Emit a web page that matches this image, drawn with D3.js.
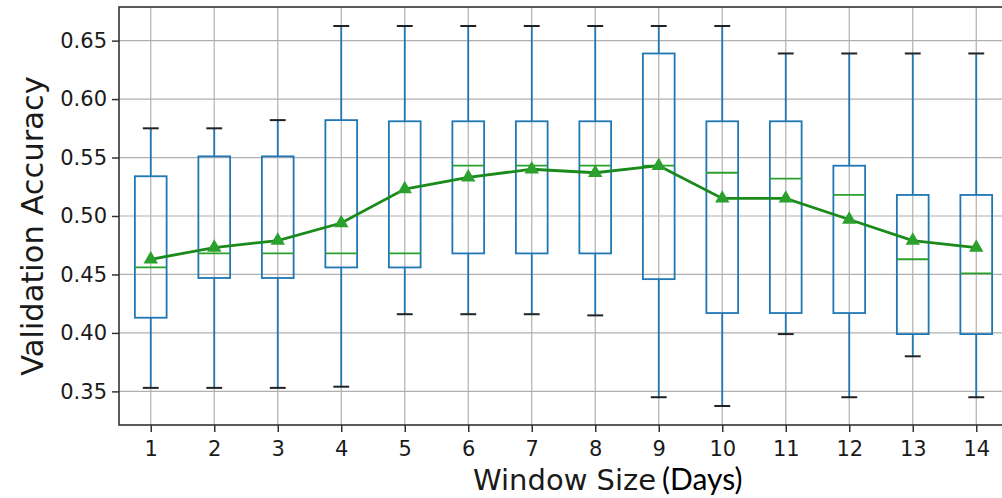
<!DOCTYPE html>
<html>
<head>
<meta charset="utf-8">
<script src="https://cdn.jsdelivr.net/npm/d3@7"></script>
<style>
  html, body { margin: 0; padding: 0; background: #fff; }
  svg { display: block; }
</style>
</head>
<body>
<div id="chart"></div>
<script>
// Validation accuracy distribution per window size (days)
const windowSizes = [1, 2, 3, 4, 5, 6, 7, 8, 9, 10, 11, 12, 13, 14];
const whiskerHigh = [0.575, 0.575, 0.582, 0.6625, 0.6625, 0.6625, 0.6625, 0.6625, 0.6625, 0.6625, 0.639, 0.639, 0.639, 0.639];
const upperQuartile = [0.534, 0.551, 0.551, 0.582, 0.581, 0.581, 0.581, 0.581, 0.639, 0.581, 0.581, 0.543, 0.518, 0.518];
const medians = [0.456, 0.468, 0.468, 0.468, 0.468, 0.543, 0.543, 0.543, 0.543, 0.537, 0.532, 0.518, 0.463, 0.451];
const lowerQuartile = [0.413, 0.447, 0.447, 0.456, 0.456, 0.468, 0.468, 0.468, 0.446, 0.417, 0.417, 0.417, 0.399, 0.399];
const whiskerLow = [0.353, 0.353, 0.353, 0.354, 0.416, 0.416, 0.416, 0.415, 0.345, 0.3375, 0.399, 0.345, 0.380, 0.345];
const means = [0.463, 0.473, 0.479, 0.494, 0.523, 0.533, 0.540, 0.537, 0.543, 0.515, 0.515, 0.497, 0.479, 0.473];
const yTicks = [0.35, 0.40, 0.45, 0.50, 0.55, 0.60, 0.65];

const W = 1002, H = 498;
const plot = { left: 119, right: 1008, top: 7, bottom: 425 };

const svg = d3.select("#chart").append("svg")
  .attr("width", W).attr("height", H)
  .style("font-family", "'DejaVu Sans', sans-serif");

const x = d3.scaleLinear()
  .domain([0.5, windowSizes.length + 0.5])
  .range([plot.left, plot.right]);

// y range padded by 5% around the whisker extent
const lo = d3.min(whiskerLow), hi = d3.max(whiskerHigh);
const pad = (hi - lo) * 0.05;
const y = d3.scaleLinear()
  .domain([lo - pad, hi + pad])
  .range([plot.bottom, plot.top]);

const boxHalf = (x(1.5) - x(1)) / 2;   // box width 0.5 units
const capHalf = boxHalf / 2;

// grid
const grid = svg.append("g").attr("stroke", "#b0b0b0").attr("stroke-width", 1.2);
grid.selectAll("line.gy").data(yTicks).join("line")
  .attr("x1", plot.left).attr("x2", plot.right)
  .attr("y1", d => y(d)).attr("y2", d => y(d));
grid.selectAll("line.gx").data(windowSizes).join("line")
  .attr("y1", plot.top).attr("y2", plot.bottom)
  .attr("x1", d => x(d)).attr("x2", d => x(d));

// boxes
const rows = windowSizes.map((w, i) => ({
  w, hiW: whiskerHigh[i], q3: upperQuartile[i], med: medians[i],
  q1: lowerQuartile[i], loW: whiskerLow[i], mean: means[i]
}));

const boxes = svg.append("g").selectAll("g").data(rows).join("g");
const blue = "#1f77b4";

boxes.append("line")
  .attr("x1", d => x(d.w)).attr("x2", d => x(d.w))
  .attr("y1", d => y(d.hiW)).attr("y2", d => y(d.q3))
  .attr("stroke", blue).attr("stroke-width", 1.8);
boxes.append("line")
  .attr("x1", d => x(d.w)).attr("x2", d => x(d.w))
  .attr("y1", d => y(d.q1)).attr("y2", d => y(d.loW))
  .attr("stroke", blue).attr("stroke-width", 1.8);
boxes.append("rect")
  .attr("x", d => x(d.w) - boxHalf).attr("width", boxHalf * 2)
  .attr("y", d => y(d.q3)).attr("height", d => y(d.q1) - y(d.q3))
  .attr("fill", "none").attr("stroke", blue).attr("stroke-width", 1.8);
boxes.append("line")
  .attr("x1", d => x(d.w) - capHalf).attr("x2", d => x(d.w) + capHalf)
  .attr("y1", d => y(d.hiW)).attr("y2", d => y(d.hiW))
  .attr("stroke", "#222").attr("stroke-width", 2);
boxes.append("line")
  .attr("x1", d => x(d.w) - capHalf).attr("x2", d => x(d.w) + capHalf)
  .attr("y1", d => y(d.loW)).attr("y2", d => y(d.loW))
  .attr("stroke", "#222").attr("stroke-width", 2);
boxes.append("line")
  .attr("x1", d => x(d.w) - boxHalf).attr("x2", d => x(d.w) + boxHalf)
  .attr("y1", d => y(d.med)).attr("y2", d => y(d.med))
  .attr("stroke", "#2ca02c").attr("stroke-width", 1.8);

// mean line with triangle markers
const line = d3.line().x(d => x(d.w)).y(d => y(d.mean));
svg.append("path").datum(rows)
  .attr("d", line).attr("fill", "none")
  .attr("stroke", "#1a8a1a").attr("stroke-width", 2.8);
svg.append("g").selectAll("path").data(rows).join("path")
  .attr("d", d3.symbol(d3.symbolTriangle, 90))
  .attr("transform", d => `translate(${x(d.w)},${y(d.mean)})`)
  .attr("fill", "#2ca02c");

// axes
const yAxis = d3.axisLeft(y).tickValues(yTicks).tickFormat(d3.format(".2f")).tickSize(7).tickPadding(5);
const xAxis = d3.axisBottom(x).tickValues(windowSizes).tickFormat(d3.format("d")).tickSize(7).tickPadding(9);

const gy = svg.append("g").attr("transform", `translate(${plot.left},0)`).call(yAxis);
const gx = svg.append("g").attr("transform", `translate(0,${plot.bottom})`).call(xAxis);
[gx, gy].forEach(g => {
  g.select(".domain").remove();
  g.selectAll(".tick line").attr("stroke", "#333").attr("stroke-width", 1.5);
  g.selectAll(".tick text").attr("fill", "#1a1a1a")
    .style("font-size", "21px").style("font-family", "'DejaVu Sans', sans-serif");
});

// spines
svg.append("rect")
  .attr("x", plot.left).attr("y", plot.top)
  .attr("width", plot.right - plot.left).attr("height", plot.bottom - plot.top)
  .attr("fill", "none").attr("stroke", "#333").attr("stroke-width", 1.6);

// labels
svg.append("text")
  .attr("transform", `translate(43,${(plot.top + plot.bottom) / 2 + 10}) rotate(-90)`)
  .attr("text-anchor", "middle")
  .attr("fill", "#1a1a1a")
  .style("font-size", "30.5px")
  .text("Validation Accuracy");

svg.append("text")
  .attr("x", 473).attr("y", 490)
  .attr("fill", "#1a1a1a")
  .style("font-size", "29px")
  .text("Window Size");

svg.append("text")
  .attr("x", 662).attr("y", 490)
  .attr("fill", "#000")
  .style("font-family", "Lato, 'Open Sans', sans-serif")
  .style("font-size", "30px")
  .text("(Days)");
</script>
</body>
</html>
